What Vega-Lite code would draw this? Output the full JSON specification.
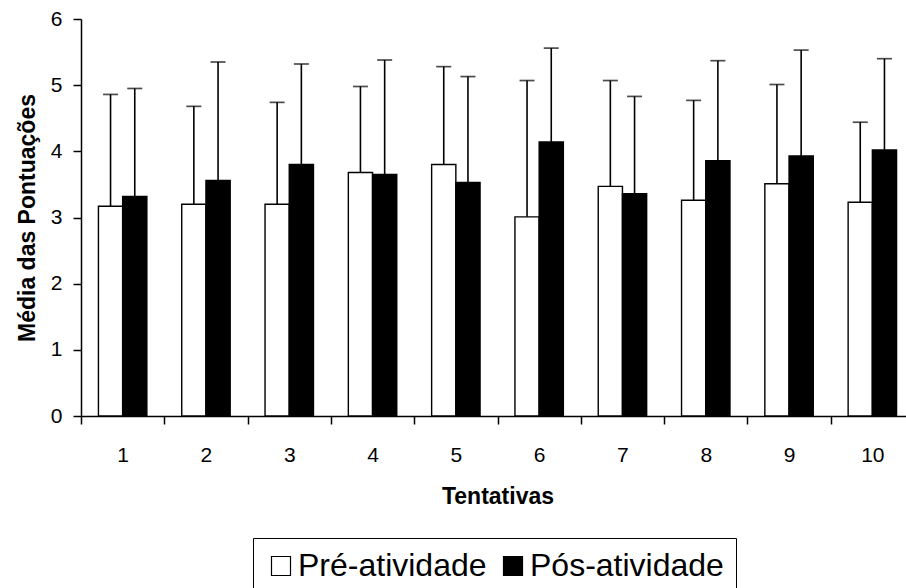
{
  "$schema": "https://vega.github.io/schema/vega-lite/v6.json",
  "autosize": {"type": "none"},
  "padding": {"left": 81, "top": 19, "right": 0, "bottom": 172},
  "width": 833,
  "height": 397,
  "background": "white",
  "config": {
    "view": {"stroke": null},
    "font": "Liberation Sans",
    "axis": {
      "domainColor": "black", "domainWidth": 1.5,
      "tickColor": "black", "tickWidth": 1.5, "tickSize": 8,
      "labelColor": "black", "titleColor": "black",
      "labelFont": "Liberation Sans", "titleFont": "Liberation Sans",
      "labelFontSize": 21, "titleFontSize": 23, "titleFontWeight": "bold",
      "grid": false
    }
  },
  "data": {
    "values": [
      {"t": 1, "g": "Pré-atividade", "m": 3.17, "u": 4.86},
      {"t": 1, "g": "Pós-atividade", "m": 3.32, "u": 4.95},
      {"t": 2, "g": "Pré-atividade", "m": 3.20, "u": 4.68},
      {"t": 2, "g": "Pós-atividade", "m": 3.56, "u": 5.35},
      {"t": 3, "g": "Pré-atividade", "m": 3.20, "u": 4.74},
      {"t": 3, "g": "Pós-atividade", "m": 3.80, "u": 5.32},
      {"t": 4, "g": "Pré-atividade", "m": 3.68, "u": 4.98},
      {"t": 4, "g": "Pós-atividade", "m": 3.65, "u": 5.38},
      {"t": 5, "g": "Pré-atividade", "m": 3.80, "u": 5.28},
      {"t": 5, "g": "Pós-atividade", "m": 3.53, "u": 5.13},
      {"t": 6, "g": "Pré-atividade", "m": 3.01, "u": 5.07},
      {"t": 6, "g": "Pós-atividade", "m": 4.14, "u": 5.56},
      {"t": 7, "g": "Pré-atividade", "m": 3.47, "u": 5.07},
      {"t": 7, "g": "Pós-atividade", "m": 3.36, "u": 4.83},
      {"t": 8, "g": "Pré-atividade", "m": 3.26, "u": 4.77},
      {"t": 8, "g": "Pós-atividade", "m": 3.86, "u": 5.37},
      {"t": 9, "g": "Pré-atividade", "m": 3.51, "u": 5.01},
      {"t": 9, "g": "Pós-atividade", "m": 3.93, "u": 5.53},
      {"t": 10, "g": "Pré-atividade", "m": 3.23, "u": 4.44},
      {"t": 10, "g": "Pós-atividade", "m": 4.02, "u": 5.40}
    ]
  },
  "encoding": {
    "x": {
      "field": "t", "type": "ordinal", "title": "Tentativas",
      "scale": {"paddingInner": 0, "paddingOuter": 0},
      "axis": {"labelAngle": 0, "tickBand": "extent", "labelPadding": 20, "titlePadding": 20}
    },
    "xOffset": {
      "field": "g", "type": "nominal",
      "scale": {"domain": ["Pré-atividade", "Pós-atividade"], "paddingInner": 0, "paddingOuter": 0.72}
    }
  },
  "layer": [
    {
      "mark": {"type": "bar", "stroke": "black", "strokeWidth": 1.4},
      "encoding": {
        "y": {
          "field": "m", "type": "quantitative", "title": "Média das Pontuações",
          "scale": {"domain": [0, 6], "nice": false},
          "axis": {"values": [0, 1, 2, 3, 4, 5, 6], "format": "d", "labelPadding": 11, "titlePadding": 11}
        },
        "color": {
          "field": "g", "type": "nominal",
          "scale": {"domain": ["Pré-atividade", "Pós-atividade"], "range": ["white", "black"]},
          "legend": {
            "title": null, "orient": "none", "legendX": 172, "legendY": 519,
            "direction": "horizontal",
            "strokeColor": "black", "padding": 12,
            "symbolType": "square", "symbolSize": 361,
            "symbolStrokeColor": "black", "symbolStrokeWidth": 1.2,
            "labelFontSize": 32, "labelFont": "Liberation Sans", "labelColor": "black",
            "labelOffset": 1, "columnPadding": 10, "labelLimit": 400
          }
        }
      }
    },
    {
      "mark": {"type": "rule", "color": "black", "strokeWidth": 1.6},
      "encoding": {
        "y": {"field": "m", "type": "quantitative"},
        "y2": {"field": "u"}
      }
    },
    {
      "mark": {"type": "tick", "color": "black", "size": 15, "thickness": 1.7},
      "encoding": {
        "y": {"field": "u", "type": "quantitative"}
      }
    }
  ]
}
